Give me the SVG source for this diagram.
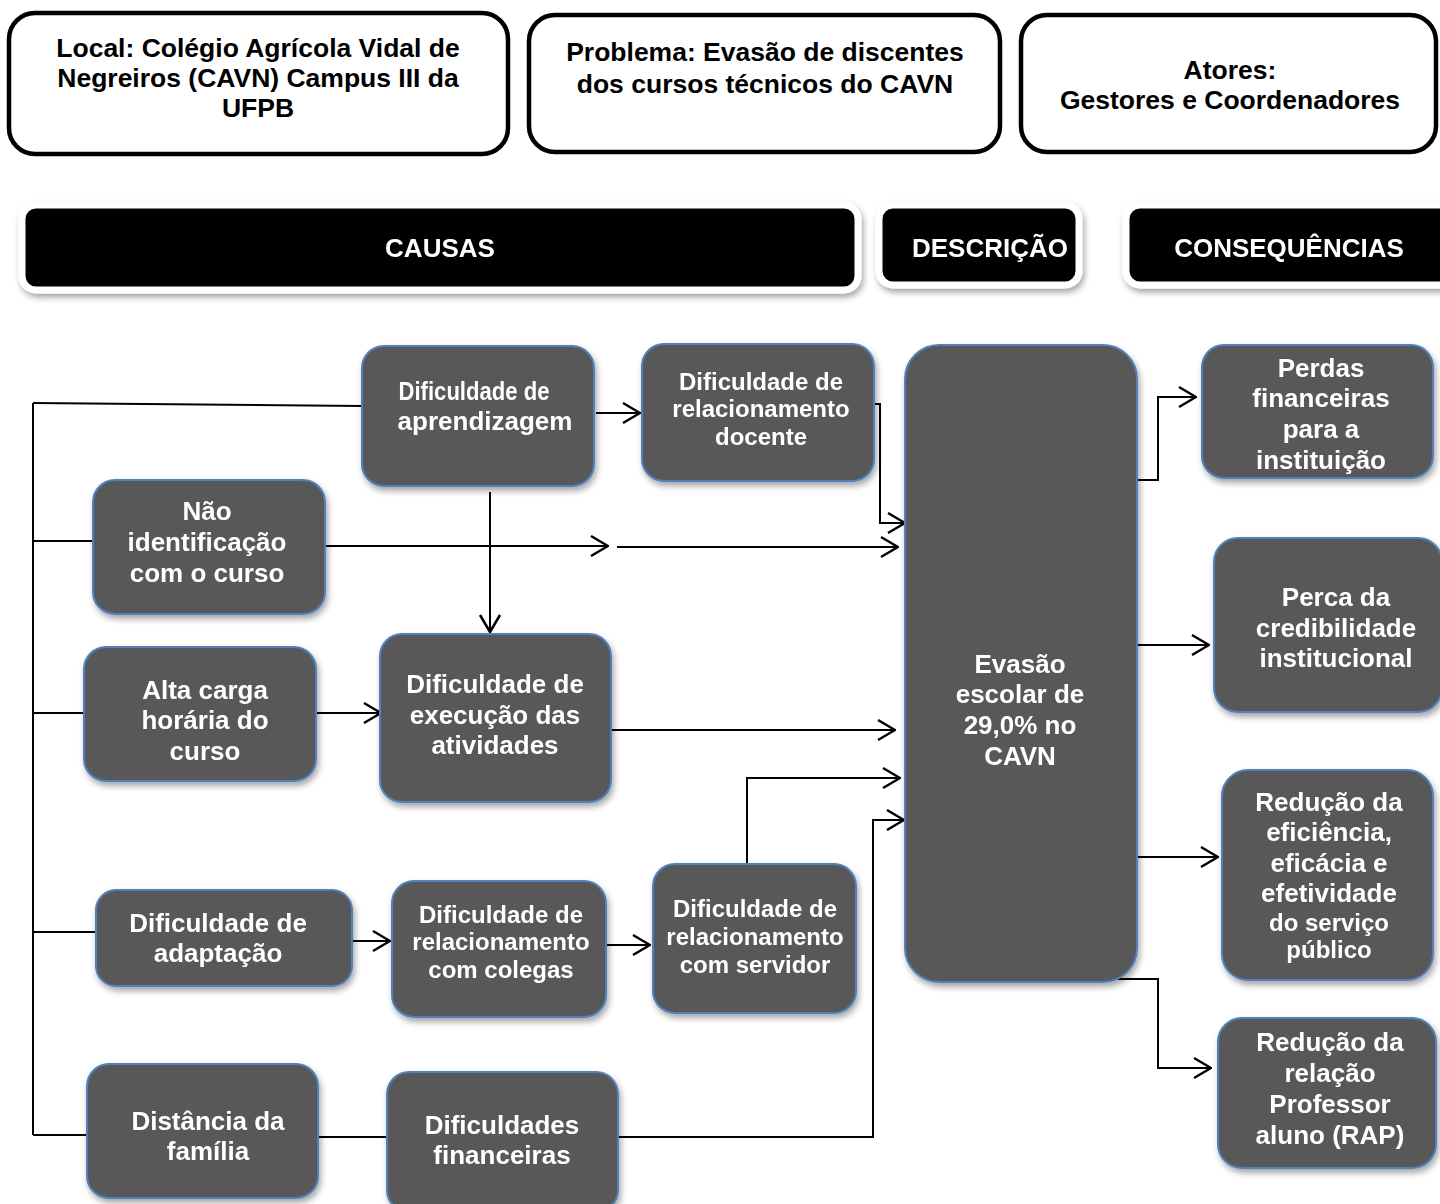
<svg xmlns="http://www.w3.org/2000/svg" width="1440" height="1204" viewBox="0 0 1440 1204">
<style>
.top{fill:#fff;stroke:#000;stroke-width:4.5}
.tt{font-family:"Liberation Sans",Arial,sans-serif;font-weight:bold;font-size:26.5px;fill:#000;text-anchor:middle}
.hdr{fill:#000;stroke:#fff;stroke-width:7}
.ht{font-family:"Liberation Sans",Arial,sans-serif;font-weight:bold;font-size:26px;fill:#fff;text-anchor:middle}
.nd{fill:#595959;stroke:#4f81bd;stroke-width:2}
.nt{font-family:"Liberation Sans",Arial,sans-serif;font-weight:bold;font-size:26px;fill:#fff;text-anchor:middle}
.ns{font-size:24px}
.cn{fill:none;stroke:#000;stroke-width:2}
</style>
<defs>
<filter id="sh" x="-10%" y="-10%" width="130%" height="130%">
<feDropShadow dx="2" dy="4" stdDeviation="3" flood-color="#000" flood-opacity="0.35"/>
</filter>
<marker id="ar" viewBox="0 0 20 24" markerWidth="20" markerHeight="24" refX="19" refY="12" orient="auto" markerUnits="userSpaceOnUse">
<path d="M2,2 L19,12 L2,22" fill="none" stroke="#000" stroke-width="2.5"/>
</marker>
</defs>
<rect width="1440" height="1204" fill="#fff"/>

<g id="local"><rect class="top" x="9" y="13" width="499" height="141" rx="26"/>
<text class="tt" x="258" y="57">Local: Colégio Agrícola Vidal de</text>
<text class="tt" x="258" y="87">Negreiros (CAVN) Campus III da</text>
<text class="tt" x="258" y="117">UFPB</text></g>
<g id="problema"><rect class="top" x="529" y="15" width="471" height="137" rx="26"/>
<text class="tt" x="765" y="61">Problema: Evasão de discentes</text>
<text class="tt" x="765" y="93">dos cursos técnicos do CAVN</text></g>
<g id="atores"><rect class="top" x="1021" y="15" width="415" height="137" rx="26"/>
<text class="tt" x="1230" y="79">Atores:</text>
<text class="tt" x="1230" y="109">Gestores e Coordenadores</text></g>

<g id="h-causas" filter="url(#sh)"><rect class="hdr" x="22" y="205" width="836" height="85" rx="14"/>
<text class="ht" x="440" y="257">CAUSAS</text></g>
<g id="h-descricao" filter="url(#sh)"><rect class="hdr" x="879" y="205" width="200" height="80" rx="14"/>
<text class="ht" x="990" y="257">DESCRIÇÃO</text></g>
<g id="h-consequencias" filter="url(#sh)"><rect class="hdr" x="1126" y="205" width="330" height="80" rx="14"/>
<text class="ht" x="1289" y="257">CONSEQUÊNCIAS</text></g>

<g id="connectors">
<path class="cn" d="M33,403 V1135"/>
<path class="cn" d="M33,403 L362,406"/>
<path class="cn" d="M33,541 H93"/>
<path class="cn" d="M33,713 H84"/>
<path class="cn" d="M33,932 H96"/>
<path class="cn" d="M33,1135 H87"/>
<path class="cn" d="M318,1137 H387"/>
<path class="cn" d="M596,413 H640" marker-end="url(#ar)"/>
<path class="cn" d="M874,404 H880 V523 H905" marker-end="url(#ar)"/>
<path class="cn" d="M490,492 V632" marker-end="url(#ar)"/>
<path class="cn" d="M325,546 H608" marker-end="url(#ar)"/>
<path class="cn" d="M617,547 H898" marker-end="url(#ar)"/>
<path class="cn" d="M316,713 H381" marker-end="url(#ar)"/>
<path class="cn" d="M611,730 H895" marker-end="url(#ar)"/>
<path class="cn" d="M747,864 V778 H900" marker-end="url(#ar)"/>
<path class="cn" d="M618,1137 H873 V820 H904" marker-end="url(#ar)"/>
<path class="cn" d="M352,941 H390" marker-end="url(#ar)"/>
<path class="cn" d="M606,945 H650" marker-end="url(#ar)"/>
<path class="cn" d="M1137,480 H1158 V397 H1196" marker-end="url(#ar)"/>
<path class="cn" d="M1137,645 H1209" marker-end="url(#ar)"/>
<path class="cn" d="M1137,857 H1218" marker-end="url(#ar)"/>
<path class="cn" d="M1113,979 H1158 V1068 H1211" marker-end="url(#ar)"/>
</g>

<g id="n-aprendizagem" filter="url(#sh)"><rect class="nd" x="362" y="346" width="232" height="140" rx="22"/>
<text class="nt" x="474" y="400" textLength="151" lengthAdjust="spacingAndGlyphs">Dificuldade de</text><text class="nt" x="485" y="430">aprendizagem</text></g>
<g id="n-docente" filter="url(#sh)"><rect class="nd" x="642" y="344" width="232" height="137" rx="22"/>
<text class="nt ns" x="761" y="390">Dificuldade de</text><text class="nt ns" x="761" y="417">relacionamento</text><text class="nt ns" x="761" y="445">docente</text></g>
<g id="n-naoident" filter="url(#sh)"><rect class="nd" x="93" y="480" width="232" height="134" rx="22"/>
<text class="nt" x="207" y="520">Não</text><text class="nt" x="207" y="551">identificação</text><text class="nt" x="207" y="582">com o curso</text></g>
<g id="n-altacarga" filter="url(#sh)"><rect class="nd" x="84" y="647" width="232" height="134" rx="22"/>
<text class="nt" x="205" y="699">Alta carga</text><text class="nt" x="205" y="729">horária do</text><text class="nt" x="205" y="760">curso</text></g>
<g id="n-execucao" filter="url(#sh)"><rect class="nd" x="380" y="634" width="231" height="168" rx="22"/>
<text class="nt" x="495" y="693">Dificuldade de</text><text class="nt" x="495" y="724">execução das</text><text class="nt" x="495" y="754">atividades</text></g>
<g id="n-adaptacao" filter="url(#sh)"><rect class="nd" x="96" y="890" width="256" height="96" rx="20"/>
<text class="nt" x="218" y="932">Dificuldade de</text><text class="nt" x="218" y="962">adaptação</text></g>
<g id="n-colegas" filter="url(#sh)"><rect class="nd" x="392" y="881" width="214" height="136" rx="22"/>
<text class="nt ns" x="501" y="923">Dificuldade de</text><text class="nt ns" x="501" y="950">relacionamento</text><text class="nt ns" x="501" y="978">com colegas</text></g>
<g id="n-servidor" filter="url(#sh)"><rect class="nd" x="653" y="864" width="203" height="149" rx="22"/>
<text class="nt ns" x="755" y="917">Dificuldade de</text><text class="nt ns" x="755" y="945">relacionamento</text><text class="nt ns" x="755" y="973">com servidor</text></g>
<g id="n-distancia" filter="url(#sh)"><rect class="nd" x="87" y="1064" width="231" height="134" rx="22"/>
<text class="nt" x="208" y="1130">Distância da</text><text class="nt" x="208" y="1160">família</text></g>
<g id="n-financeiras" filter="url(#sh)"><rect class="nd" x="387" y="1072" width="231" height="140" rx="22"/>
<text class="nt" x="502" y="1134">Dificuldades</text><text class="nt" x="502" y="1164">financeiras</text></g>
<g id="n-evasao" filter="url(#sh)"><rect class="nd" x="905" y="345" width="232" height="637" rx="34"/>
<text class="nt" x="1020" y="673">Evasão</text><text class="nt" x="1020" y="703">escolar de</text><text class="nt" x="1020" y="734">29,0% no</text><text class="nt" x="1020" y="765">CAVN</text></g>
<g id="n-perdas" filter="url(#sh)"><rect class="nd" x="1202" y="345" width="231" height="133" rx="22"/>
<text class="nt" x="1321" y="377">Perdas</text><text class="nt" x="1321" y="407">financeiras</text><text class="nt" x="1321" y="438">para a</text><text class="nt" x="1321" y="469">instituição</text></g>
<g id="n-perca" filter="url(#sh)"><rect class="nd" x="1214" y="538" width="228" height="174" rx="24"/>
<text class="nt" x="1336" y="606">Perca da</text><text class="nt" x="1336" y="637">credibilidade</text><text class="nt" x="1336" y="667">institucional</text></g>
<g id="n-eficiencia" filter="url(#sh)"><rect class="nd" x="1222" y="770" width="211" height="210" rx="26"/>
<text class="nt" x="1329" y="811">Redução da</text><text class="nt" x="1329" y="841">eficiência,</text><text class="nt" x="1329" y="872">eficácia e</text><text class="nt" x="1329" y="902">efetividade</text><text class="nt ns" x="1329" y="931">do serviço</text><text class="nt ns" x="1329" y="958">público</text></g>
<g id="n-rap" filter="url(#sh)"><rect class="nd" x="1218" y="1018" width="218" height="150" rx="24"/>
<text class="nt" x="1330" y="1051">Redução da</text><text class="nt" x="1330" y="1082">relação</text><text class="nt" x="1330" y="1113">Professor</text><text class="nt" x="1330" y="1144">aluno (RAP)</text></g>
</svg>
